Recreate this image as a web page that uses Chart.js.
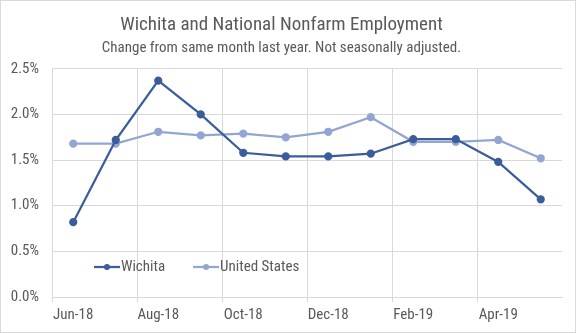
<!DOCTYPE html>
<html>
<head>
<meta charset="utf-8">
<script src="https://cdn.jsdelivr.net/npm/chart.js@4"></script>
<style>
  body { margin: 0; background: #fff; }
  #wrap { width: 576px; height: 333px; box-sizing: border-box; border: 1px solid #d9d9d9; }
</style>
</head>
<body>
<div id="wrap"><canvas id="empChart" width="574" height="331"></canvas></div>
<script>
const months = ['Jun-18', 'Jul-18', 'Aug-18', 'Sep-18', 'Oct-18', 'Nov-18',
                'Dec-18', 'Jan-19', 'Feb-19', 'Mar-19', 'Apr-19', 'May-19'];
const wichita = [0.82, 1.72, 2.37, 2.00, 1.58, 1.54, 1.54, 1.57, 1.73, 1.73, 1.48, 1.07];
const unitedStates = [1.68, 1.68, 1.81, 1.77, 1.79, 1.75, 1.81, 1.97, 1.70, 1.70, 1.72, 1.52];

const FONT = "'Liberation Sans Narrow', 'Roboto Condensed', 'Liberation Sans', Arial, sans-serif";
const TEXT = '#595959';
const GRID = '#d9d9d9';

// legend sits inside the plot, lower left
const innerLegend = {
    id: 'innerLegend',
    afterDatasetsDraw(chart) {
        const ctx = chart.ctx;
        let x = 93;
        const y = 266;
        ctx.save();
        ctx.font = '15px ' + FONT;
        ctx.textBaseline = 'middle';
        chart.data.datasets.forEach(ds => {
            ctx.strokeStyle = ds.borderColor;
            ctx.lineWidth = 2.25;
            ctx.beginPath();
            ctx.moveTo(x, y);
            ctx.lineTo(x + 26, y);
            ctx.stroke();
            ctx.fillStyle = ds.borderColor;
            ctx.beginPath();
            ctx.arc(x + 13, y, 3, 0, Math.PI * 2);
            ctx.fill();
            ctx.fillStyle = TEXT;
            ctx.fillText(ds.label, x + 27, y);
            x += 27 + ctx.measureText(ds.label).width + 28;
        });
        ctx.restore();
    }
};

new Chart(document.getElementById('empChart'), {
    type: 'line',
    data: {
        labels: months,
        datasets: [{
            label: 'Wichita',
            data: wichita,
            borderColor: '#3b5d9b',
            backgroundColor: '#3b5d9b',
            borderWidth: 2.25,
            pointRadius: 3,
            pointHoverRadius: 3,
            tension: 0
        }, {
            label: 'United States',
            data: unitedStates,
            borderColor: '#93a5d2',
            backgroundColor: '#93a5d2',
            borderWidth: 2.25,
            pointRadius: 3,
            pointHoverRadius: 3,
            tension: 0
        }]
    },
    options: {
        responsive: false,
        animation: false,
        layout: { padding: { left: 0, right: 13, top: 0, bottom: 0 } },
        plugins: {
            legend: { display: false },
            tooltip: { enabled: false },
            title: {
                display: true,
                text: 'Wichita and National Nonfarm Employment',
                color: TEXT,
                font: { family: FONT, size: 19, weight: 'normal' },
                padding: { top: 13, bottom: 0 }
            },
            subtitle: {
                display: true,
                text: 'Change from same month last year. Not seasonally adjusted.',
                color: TEXT,
                font: { family: FONT, size: 15 },
                padding: { top: 2, bottom: 12 }
            }
        },
        scales: {
            x: {
                offset: true,
                afterFit: scale => { scale.height = 35; },
                grid: {
                    offset: true,
                    tickLength: 5,
                    color: c => (c.index % 2 === 0 ? GRID : 'rgba(0,0,0,0)')
                },
                border: { color: GRID },
                ticks: {
                    autoSkip: false,
                    maxRotation: 0,
                    padding: 4,
                    color: TEXT,
                    font: { family: FONT, size: 15 },
                    callback: (v, i) => (i % 2 === 0 ? months[i] : '')
                }
            },
            y: {
                min: 0,
                max: 2.5,
                afterFit: scale => { scale.width = 51; },
                grid: { color: GRID, drawTicks: false },
                border: { display: false },
                ticks: {
                    stepSize: 0.5,
                    padding: 13,
                    color: TEXT,
                    font: { family: FONT, size: 15 },
                    callback: v => v.toFixed(1) + '%'
                }
            }
        }
    },
    plugins: [innerLegend]
});
</script>
</body>
</html>
